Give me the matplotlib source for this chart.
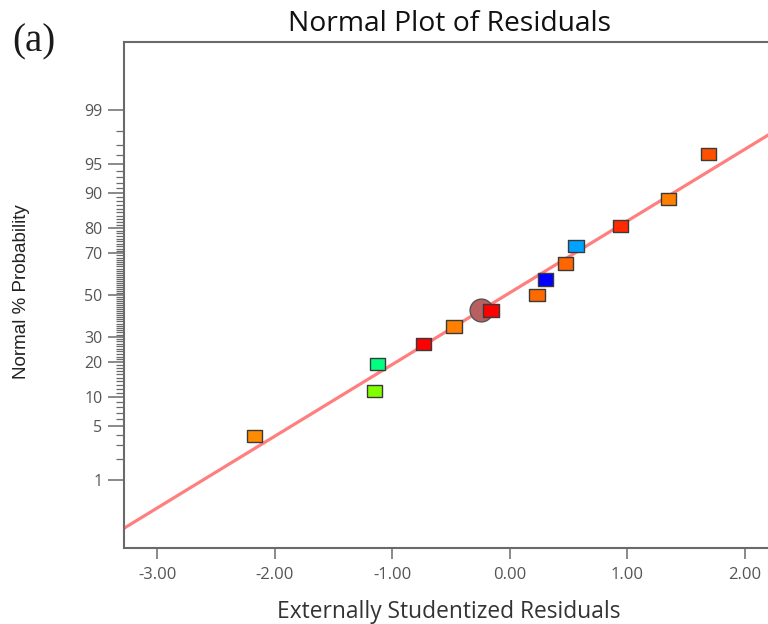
import numpy as np
import matplotlib
matplotlib.use('Agg')
import matplotlib.pyplot as plt
from matplotlib.ticker import FixedLocator, NullFormatter
from statistics import NormalDist

# residuals, sorted by rank
residuals = [-2.176, -1.155, -1.126, -0.738, -0.477, -0.162, 0.230,
             0.300, 0.471, 0.562, 0.939, 1.347, 1.691]
normal_prob = [3.85, 11.5, 19.2, 26.9, 34.6, 42.3, 50.0,
               57.7, 65.4, 73.1, 80.8, 88.5, 96.2]
point_colors = ['#FF8C00', '#80FF00', '#00FF80', '#FF0000', '#FF7F00', '#FF0000', '#FF6A00',
                '#0000FF', '#FF6600', '#00A2FF', '#FF2A00', '#FF8000', '#FF5000']
# highlighted (circled) run
highlight_x = -0.249
highlight_p = 42.3
# reference line
line_mean = -0.033
line_sd = 1.111

major_p = [1, 5, 10, 20, 30, 50, 70, 80, 90, 95, 99]
minor_p = [p for p in range(1, 100) if p not in major_p]
x_ticks = [-3, -2, -1, 0, 1, 2]

nd = NormalDist()
_ppf = np.vectorize(lambda p: nd.inv_cdf(min(max(p / 100.0, 1e-9), 1 - 1e-9)))
_cdf = np.vectorize(lambda z: nd.cdf(z) * 100.0)


def fwd(p):
    return _ppf(np.asarray(p, dtype=float))


def inv(z):
    return _cdf(np.asarray(z, dtype=float))


fig = plt.figure(figsize=(7.68, 6.24), dpi=100)
ax = fig.add_axes([124 / 768, 76 / 624, 652 / 768, 506 / 624])
ax.set_yscale('function', functions=(fwd, inv))

xmin, xmax = -3.285, 2.264
ax.set_xlim(xmin, xmax)
ax.set_ylim(inv(-3.175), inv(3.175))

# fitted normal line
xl = np.array([xmin, xmax])
ax.plot(xl, inv((xl - line_mean) / line_sd), color='#FF7F7F', lw=2.3, zorder=2)

# highlight circle then the points
ax.scatter([highlight_x], [highlight_p], s=270, marker='o', color='#B86060',
           edgecolor='#555555', linewidth=1.0, zorder=3)
rect = [(-1.25, -1), (1.25, -1), (1.25, 1), (-1.25, 1), (-1.25, -1)]
ax.scatter(residuals, normal_prob, s=120, marker=rect, c=point_colors,
           edgecolor='#3a3a3a', linewidth=1.0, zorder=4)

ax.yaxis.set_major_locator(FixedLocator(major_p))
ax.yaxis.set_minor_locator(FixedLocator(minor_p))
ax.yaxis.set_minor_formatter(NullFormatter())
ax.set_yticklabels([str(p) for p in major_p])
ax.set_xticks(x_ticks)
ax.set_xticklabels(['%.2f' % v for v in x_ticks])

for side in ['left', 'top', 'bottom']:
    ax.spines[side].set_color('#6a6a6a')
    ax.spines[side].set_linewidth(1.5)
ax.spines['right'].set_visible(False)

ax.tick_params(axis='y', which='major', length=11.5, width=1.1, color='#6a6a6a',
               pad=4, labelsize=11.5, labelcolor='#555555')
ax.tick_params(axis='y', which='minor', length=5.8, width=0.9, color='#6a6a6a')
ax.tick_params(axis='x', which='major', length=8, width=1.1, color='#6a6a6a',
               pad=6, labelsize=12, labelcolor='#555555')
for lab in ax.get_xticklabels() + ax.get_yticklabels():
    lab.set_family('Open Sans')

fig.text(450 / 768, 1 - 24 / 624, 'Normal Plot of Residuals', ha='center', va='center',
         fontsize=20.3, family='Open Sans', color='#111111')
fig.text(449 / 768, 1 - 612 / 624, 'Externally Studentized Residuals', ha='center',
         va='center', fontsize=16.4, family='Open Sans', color='#333333')
fig.text(22 / 768, 1 - 292 / 624, 'Normal % Probability', ha='center', va='center',
         rotation=90, fontsize=13.5, family='Liberation Sans', color='#222222')
fig.text(34 / 768, 1 - 42 / 624, '(a)', ha='center', va='center', fontsize=28,
         family='Liberation Serif', color='#1a1a1a')

fig.savefig('out.png', dpi=100)
